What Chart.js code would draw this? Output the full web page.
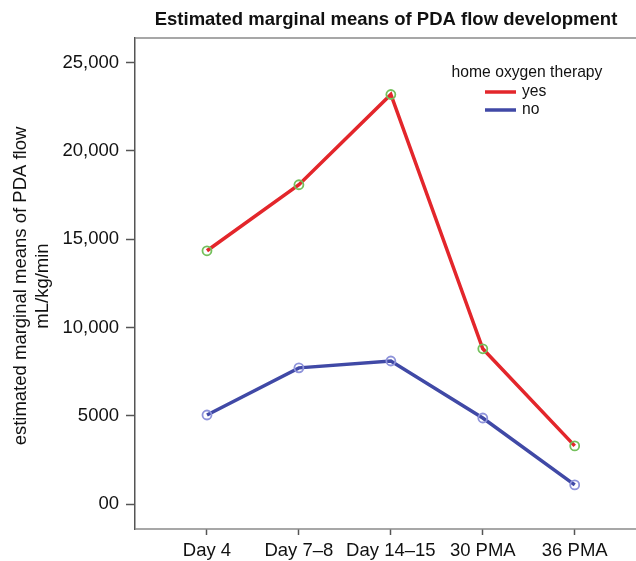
<!DOCTYPE html>
<html>
<head>
<meta charset="utf-8">
<script src="https://cdn.jsdelivr.net/npm/chart.js@4.4.1/dist/chart.umd.min.js"></script>
<style>
  html, body { margin: 0; padding: 0; background: #fff; }
  #wrap { width: 636px; height: 561px; }
</style>
</head>
<body>
<div id="wrap"><canvas id="c" width="636" height="561"></canvas></div>
<script>
const categories = ["Day 4", "Day 7\u20138", "Day 14\u201315", "30 PMA", "36 PMA"];
const yesValues = [14340, 18080, 23190, 8790, 3290];
const noValues = [5040, 7710, 8100, 4870, 1080];
const yTickValues = [0, 5000, 10000, 15000, 20000, 25000];
const yTickLabels = ["00", "5000", "10,000", "15,000", "20,000", "25,000"];
const chartTitle = "Estimated marginal means of PDA flow development";
const yTitle = ["estimated marginal means of PDA flow", "mL/kg/min"];
const legendTitle = "home oxygen therapy";

const FONT = "'Liberation Sans', Arial, sans-serif";

const decor = {
  id: 'decor',
  beforeDatasetsDraw(chart) {
    const {ctx, chartArea: a} = chart;
    ctx.save();
    ctx.strokeStyle = '#8a8a8a';
    ctx.lineWidth = 1.5;
    ctx.beginPath();
    ctx.moveTo(a.left, a.top);
    ctx.lineTo(chart.width, a.top);
    ctx.moveTo(a.left, a.bottom);
    ctx.lineTo(chart.width, a.bottom);
    ctx.stroke();
    ctx.restore();
  },
  afterDraw(chart) {
    const {ctx} = chart;
    ctx.save();
    // title
    ctx.fillStyle = '#111';
    ctx.font = "bold 18.5px " + FONT;
    ctx.textAlign = 'center';
    ctx.textBaseline = 'alphabetic';
    ctx.fillText(chartTitle, 386, 25);
    // y title
    ctx.font = "18.5px " + FONT;
    ctx.save();
    ctx.translate(26, 286);
    ctx.rotate(-Math.PI / 2);
    ctx.textBaseline = 'middle';
    ctx.fillText(yTitle[0], 0, -5);
    ctx.fillText(yTitle[1], 0, 17);
    ctx.restore();
    // legend
    ctx.font = "15.7px " + FONT;
    ctx.textAlign = 'center';
    ctx.textBaseline = 'middle';
    ctx.fillText(legendTitle, 527, 73);
    chart.data.datasets.forEach((ds, i) => {
      const y = 92 + i * 18;
      ctx.strokeStyle = ds.borderColor;
      ctx.lineWidth = 3.5;
      ctx.beginPath();
      ctx.moveTo(485, y);
      ctx.lineTo(516, y);
      ctx.stroke();
      ctx.fillStyle = '#111';
      ctx.textAlign = 'left';
      ctx.fillText(ds.label, 522, y);
    });
    ctx.restore();
  }
};

new Chart(document.getElementById('c'), {
  type: 'line',
  data: {
    datasets: [
      {
        label: 'yes',
        data: yesValues.map((v, i) => ({x: i, y: v})),
        borderColor: '#e3262b',
        borderWidth: 3.5,
        pointRadius: 4.5,
        pointBorderWidth: 1.8,
        pointBorderColor: '#74c05c',
        pointBackgroundColor: 'rgba(0,0,0,0)',
        tension: 0
      },
      {
        label: 'no',
        data: noValues.map((v, i) => ({x: i, y: v})),
        borderColor: '#4049a6',
        borderWidth: 3.5,
        pointRadius: 4.5,
        pointBorderWidth: 1.8,
        pointBorderColor: '#8e93da',
        pointBackgroundColor: 'rgba(0,0,0,0)',
        tension: 0
      }
    ]
  },
  options: {
    responsive: false,
    animation: false,
    layout: { padding: { top: 38, right: 0, left: 0, bottom: 0 } },
    plugins: { legend: { display: false }, title: { display: false }, tooltip: { enabled: false } },
    scales: {
      x: {
        type: 'linear',
        min: -0.783,
        max: 4.598,
        afterBuildTicks(scale) { scale.ticks = categories.map((c, i) => ({value: i})); },
        afterFit(scale) { scale.height = 32; },
        ticks: {
          autoSkip: false,
          maxRotation: 0,
          padding: 5,
          color: '#111',
          font: { family: FONT, size: 18.5 },
          callback: (v) => categories[v]
        },
        grid: { drawOnChartArea: false, drawTicks: true, tickLength: 6, tickColor: '#555', tickWidth: 1.5 },
        border: { display: false }
      },
      y: {
        min: -1415,
        max: 26390,
        afterBuildTicks(scale) { scale.ticks = yTickValues.map(v => ({value: v})); },
        afterFit(scale) { scale.width = 135; },
        ticks: {
          padding: 7,
          color: '#111',
          font: { family: FONT, size: 18.5 },
          callback: (v) => yTickLabels[yTickValues.indexOf(v)]
        },
        grid: { drawOnChartArea: false, drawTicks: true, tickLength: 9, tickColor: '#555', tickWidth: 1.5 },
        border: { display: true, color: '#555', width: 1.5 }
      }
    }
  },
  plugins: [decor]
});
</script>
</body>
</html>
